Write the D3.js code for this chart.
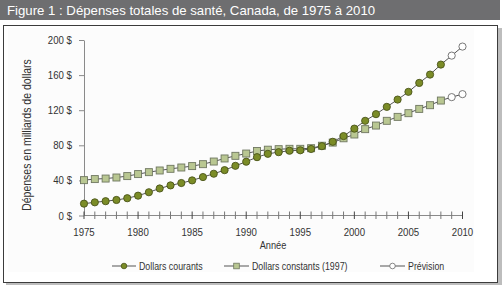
<!DOCTYPE html>
<html><head><meta charset="utf-8">
<script src="https://cdn.jsdelivr.net/npm/d3@7"></script>
<style>
html,body{margin:0;padding:0;background:#fff;}
svg{display:block;}
</style></head>
<body>
<script>
const years = d3.range(1975, 2009);
const currentDollars = [13.5,15.0,16.3,17.7,19.7,22.6,26.5,30.8,34.3,37.0,40.0,43.8,47.6,51.7,56.6,61.3,66.5,70.3,72.2,73.8,74.3,75.8,79.0,84.0,90.5,99.0,107.9,115.5,123.8,132.1,140.9,151.1,160.6,172.0];
const constantDollars = [40.3,41.5,42.1,43.3,44.9,47.2,49.4,51.3,53.2,54.7,56.3,58.5,61.5,65.0,68.0,70.6,73.5,75.0,75.6,76.0,76.0,76.7,79.5,83.1,88.0,92.3,98.4,102.5,107.9,112.4,116.6,121.5,125.7,131.0];
const forecastYears = [2009, 2010];
const forecastCurrent = [182.2, 192.5];
const forecastConstant = [134.9, 138.3];
const yTicks = [0, 40, 80, 120, 160, 200];
const xTickLabels = [1975, 1980, 1985, 1990, 1995, 2000, 2005, 2010];
const title = "Figure 1 : Dépenses totales de santé, Canada, de 1975 à 2010";
const yTitle = "Dépenses en milliards de dollars";
const xTitle = "Année";
const legendLabels = ["Dollars courants", "Dollars constants (1997)", "Prévision"];

const W = 504, H = 287;
const FONT = "'Liberation Sans',Arial,sans-serif";
const SX = 0.84;
const svg = d3.select("body").append("svg").attr("width", W).attr("height", H);

function narrow(parent, tx, ty, str, size, anchor, rot){
  return parent.append("text")
    .attr("transform", `translate(${tx},${ty})` + (rot ? ` rotate(${rot})` : "") + ` scale(${SX},1)`)
    .attr("text-anchor", anchor || "start")
    .attr("font-family", FONT).attr("font-size", size).attr("fill", "#333").text(str);
}

// frame + shadow
svg.append("rect").attr("x",0).attr("y",0).attr("width",W).attr("height",H).attr("fill","#fff");
svg.append("rect").attr("x",6).attr("y",28).attr("width",496).attr("height",257).attr("fill","#bdbdbd");
svg.append("rect").attr("x",3.5).attr("y",25.5).attr("width",494).attr("height",257).attr("fill","#fff").attr("stroke","#3c3c3c").attr("stroke-width",1);
svg.append("rect").attr("x",8).attr("y",28).attr("width",466).attr("height",244).attr("fill","#fcfcfc");

// title bar
svg.append("rect").attr("x",0).attr("y",0).attr("width",500).attr("height",20).attr("fill","#6e6e70");
svg.append("text").attr("x",7).attr("y",15).attr("fill","#fff")
  .attr("font-family",FONT).attr("font-size",13.2).text(title);

const x = d3.scaleLinear().domain([1975, 2010]).range([84, 462.5]);
const y = d3.scaleLinear().domain([0, 200]).range([215.5, 40]);

// y axis (line + ticks from axis generator, labels narrow)
const yAxis = svg.append("g").attr("transform","translate(84,0)")
  .call(d3.axisLeft(y).tickValues(yTicks).tickSize(5).tickSizeOuter(0).tickFormat(""));
yAxis.select(".domain").attr("stroke","#8a8a8a");
yAxis.selectAll(".tick line").attr("stroke","#8a8a8a");
const yLab = svg.append("g");
yTicks.forEach(v => narrow(yLab, 72, y(v) + 4, v + " $", 11.5, "end"));

// x axis: ticks crossing the line
const xAxisG = svg.append("g");
xAxisG.append("line").attr("x1",x(1975)).attr("x2",x(2010)).attr("y1",y(0)).attr("y2",y(0)).attr("stroke","#8a8a8a");
const allYears = d3.range(1975, 2011);
xAxisG.selectAll("line.tk").data(allYears).join("line").attr("class","tk")
  .attr("x1",d=>x(d)).attr("x2",d=>x(d)).attr("y1",y(0)-4).attr("y2",y(0)+3.5)
  .attr("stroke",d=> d%5===0 ? "#444" : "#777").attr("stroke-width",1);
xTickLabels.forEach(d => narrow(xAxisG, x(d), 236, d, 11.5, "middle"));

narrow(svg, 273, 249, xTitle, 11, "middle");
narrow(svg, 31, 135, yTitle, 12.5, "middle", -90);

const line = d3.line().x(d=>x(d[0])).y(d=>y(d[1]));
const curPts = years.map((yr,i)=>[yr,currentDollars[i]]);
const conPts = years.map((yr,i)=>[yr,constantDollars[i]]);
const curFc = forecastYears.map((yr,i)=>[yr,forecastCurrent[i]]);
const conFc = forecastYears.map((yr,i)=>[yr,forecastConstant[i]]);

const LINE = "#555";
svg.append("path").attr("d",line(conPts.concat(conFc))).attr("fill","none").attr("stroke",LINE).attr("stroke-width",1);
svg.append("path").attr("d",line(curPts.concat(curFc))).attr("fill","none").attr("stroke",LINE).attr("stroke-width",1);

const SQ = 7;
function squares(g, pts){
  g.selectAll("rect").data(pts).join("rect")
    .attr("x",d=>x(d[0])-SQ/2).attr("y",d=>y(d[1])-SQ/2).attr("width",SQ).attr("height",SQ)
    .attr("fill","#b9c792").attr("stroke","#6f7760").attr("stroke-width",0.9);
}
function circles(g, pts){
  g.selectAll("circle").data(pts).join("circle")
    .attr("cx",d=>x(d[0])).attr("cy",d=>y(d[1])).attr("r",3.6)
    .attr("fill","#7b8c27").attr("stroke","#4a5418").attr("stroke-width",0.9);
}
function openCircles(g, pts){
  g.selectAll("circle").data(pts).join("circle")
    .attr("cx",d=>x(d[0])).attr("cy",d=>y(d[1])).attr("r",3.6)
    .attr("fill","#fff").attr("stroke","#6a6a6a").attr("stroke-width",0.9);
}
squares(svg.append("g"), conPts);
circles(svg.append("g"), curPts);
openCircles(svg.append("g"), conFc);
openCircles(svg.append("g"), curFc);

// legend
const legY = 266;
const legItems = [
  {x0:112, x1:136, tx:139, kind:"circle"},
  {x0:224, x1:249, tx:252, kind:"square"},
  {x0:380, x1:405, tx:408, kind:"open"}
];
legItems.forEach((it,i)=>{
  const g = svg.append("g");
  g.append("line").attr("x1",it.x0).attr("x2",it.x1).attr("y1",legY).attr("y2",legY).attr("stroke",LINE);
  const cx = (it.x0+it.x1)/2;
  if(it.kind==="circle") g.append("circle").attr("cx",cx).attr("cy",legY).attr("r",2.8).attr("fill","#7b8c27").attr("stroke","#4a5418").attr("stroke-width",0.8);
  else if(it.kind==="square") g.append("rect").attr("x",cx-2.8).attr("y",legY-2.8).attr("width",5.6).attr("height",5.6).attr("fill","#b9c792").attr("stroke","#6f7760").attr("stroke-width",0.8);
  else g.append("circle").attr("cx",cx).attr("cy",legY).attr("r",2.8).attr("fill","#fff").attr("stroke","#6a6a6a").attr("stroke-width",0.8);
  narrow(g, it.tx, legY + 3.8, legendLabels[i], 10.5, "start");
});
</script>
</body></html>
